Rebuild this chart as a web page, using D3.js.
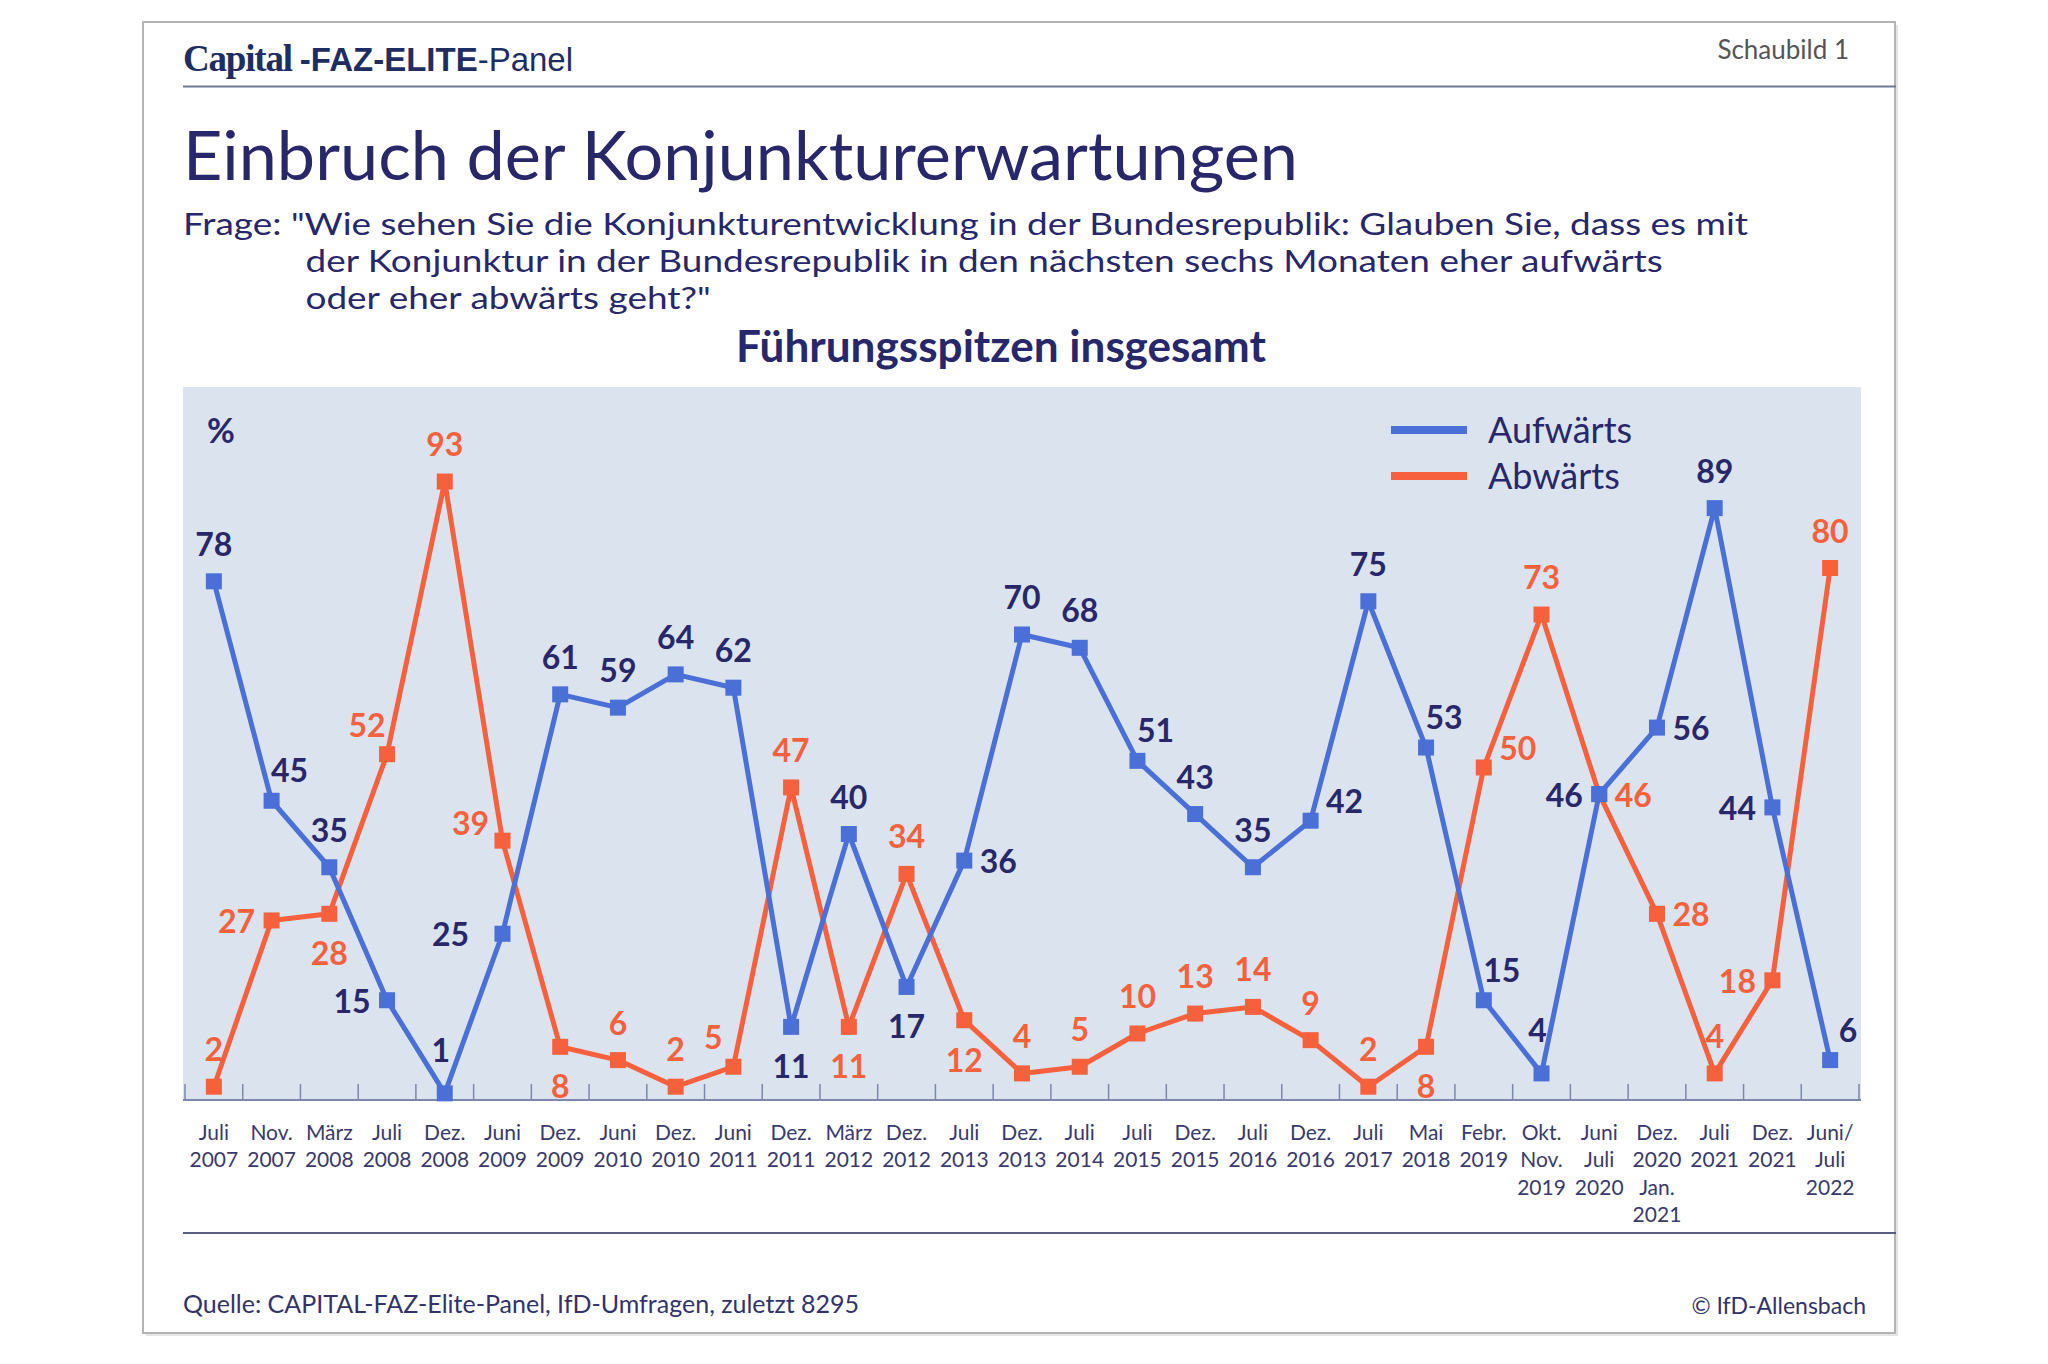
<!DOCTYPE html>
<html>
<head>
<meta charset="utf-8">
<script src="https://cdn.jsdelivr.net/npm/d3@7"></script>
<style>
  body { margin: 0; background: #fff; }
  svg { display: block; font-family: Lato, "Open Sans", sans-serif; }
</style>
</head>
<body>
<svg id="chart" width="2048" height="1364"></svg>
<script>
// survey dates (x-axis labels, one line per array entry)
const categories = [
  ["Juli", "2007"], ["Nov.", "2007"], ["März", "2008"], ["Juli", "2008"], ["Dez.", "2008"],
  ["Juni", "2009"], ["Dez.", "2009"], ["Juni", "2010"], ["Dez.", "2010"], ["Juni", "2011"],
  ["Dez.", "2011"], ["März", "2012"], ["Dez.", "2012"], ["Juli", "2013"], ["Dez.", "2013"],
  ["Juli", "2014"], ["Juli", "2015"], ["Dez.", "2015"], ["Juli", "2016"], ["Dez.", "2016"],
  ["Juli", "2017"], ["Mai", "2018"], ["Febr.", "2019"], ["Okt.", "Nov.", "2019"],
  ["Juni", "Juli", "2020"], ["Dez.", "2020", "Jan.", "2021"], ["Juli", "2021"],
  ["Dez.", "2021"], ["Juni/", "Juli", "2022"]
];

const aufwaerts = [78, 45, 35, 15, 1, 25, 61, 59, 64, 62, 11, 40, 17, 36, 70, 68, 51, 43, 35, 42, 75, 53, 15, 4, 46, 56, 89, 44, 6];
const abwaerts  = [2, 27, 28, 52, 93, 39, 8, 6, 2, 5, 47, 11, 34, 12, 4, 5, 10, 13, 14, 9, 2, 8, 50, 73, 46, 28, 4, 18, 80];

// where each value label sits relative to its marker
const aufPos = ["t","tr","t","l","T","L","t","t","t","t","b","t","b","r","t","t","tr","t","t","rt","t","tr","tr","T","l","r","t","l","tr"];
const abPos  = ["t","l","b","tl","t","lt","b","t","t","tl","t","b","t","b","t","t","t","t","t","t","t","b","rt","t","r","r","t","l","t"];

const offsets = {
  t: [0, -38], T: [-4, -44], b: [0, 39], l: [-35, 0], r: [34, 0],
  tr: [18, -31], tl: [-20, -30], rt: [34, -20], lt: [-32, -18], L: [-52, 0]
};

const navy = "#27276a";
const blue = "#4a6fd6";
const orange = "#f6603c";

const svg = d3.select("#chart");

// fit a text element's font-size so it spans the wanted width
function fitWidth(sel, w) {
  const fs = parseFloat(sel.attr("font-size"));
  const len = sel.node().getComputedTextLength();
  sel.attr("font-size", (fs * w / len).toFixed(2));
}

// frame
svg.append("rect").attr("x", 146).attr("y", 25).attr("width", 1752).attr("height", 1311)
  .attr("fill", "#e4e4e4");
svg.append("rect").attr("x", 143).attr("y", 22).attr("width", 1752).attr("height", 1311)
  .attr("fill", "#fff").attr("stroke", "#b4b4b4").attr("stroke-width", 2);

// header
const head = svg.append("text").attr("x", 183).attr("y", 71).attr("fill", "#1f2e62");
head.append("tspan").attr("font-family", "'Liberation Serif', serif").attr("font-weight", 700)
  .attr("font-size", 37).attr("letter-spacing", -1.2).text("Capital ");
head.append("tspan").attr("font-family", "'Liberation Sans', Arial, sans-serif").attr("font-weight", 700)
  .attr("font-size", 33).text("-FAZ-ELITE");
head.append("tspan").attr("font-family", "'Liberation Sans', Arial, sans-serif")
  .attr("font-size", 33).text("-Panel");

svg.append("text").attr("x", 1849).attr("y", 59).attr("text-anchor", "end")
  .attr("font-size", 26).attr("fill", "#555").text("Schaubild 1");

svg.append("line").attr("x1", 183).attr("x2", 1896).attr("y1", 86.5).attr("y2", 86.5)
  .attr("stroke", "#6c7a92").attr("stroke-width", 2);

// title block
const title = svg.append("text").attr("x", 183).attr("y", 180).attr("font-size", 66)
  .attr("fill", navy).text("Einbruch der Konjunkturerwartungen");
fitWidth(title, 1115);

const qLines = [
  ["Frage: \"Wie sehen Sie die Konjunkturentwicklung in der Bundesrepublik: Glauben Sie, dass es mit", 183, 235],
  ["der Konjunktur in der Bundesrepublik in den nächsten sechs Monaten eher aufwärts", 305.5, 272],
  ["oder eher abwärts geht?\"", 305.5, 308.5]
];
const qText = qLines.map(([s, qx, qy]) => svg.append("text").attr("x", qx).attr("y", qy)
  .attr("font-size", 30).attr("fill", navy).text(s));
// stretch glyphs of the first line to the reference width, same ratio for the others
const stretch = 1565 / qText[0].node().getComputedTextLength();
qText.forEach(t => t.attr("textLength", (t.node().getComputedTextLength() * stretch).toFixed(1))
  .attr("lengthAdjust", "spacingAndGlyphs"));

const sub = svg.append("text").attr("x", 1001).attr("y", 362).attr("text-anchor", "middle")
  .attr("font-size", 40).attr("font-weight", 700).attr("fill", navy).text("Führungsspitzen insgesamt");
fitWidth(sub, 530);

// plot area
const plot = { left: 183, right: 1861, top: 387, bottom: 1100 };
svg.append("rect").attr("x", plot.left).attr("y", plot.top)
  .attr("width", plot.right - plot.left).attr("height", plot.bottom - plot.top)
  .attr("fill", "#dbe3ee");

const keys = categories.map(c => c.join(" "));
const x = d3.scaleBand().domain(keys).range([185, 1859]).padding(0);
const y = d3.scaleLinear().domain([0, 100]).range([plot.bottom, 435]);
const cx = i => x(keys[i]) + x.bandwidth() / 2;

// axis: baseline with ticks at the band boundaries
const axisG = svg.append("g").attr("transform", `translate(0,${plot.bottom})`);
axisG.call(d3.axisTop(x).tickSize(0).tickFormat(""));
axisG.select(".domain").remove();
axisG.append("line").attr("x1", plot.left).attr("x2", plot.right)
  .attr("stroke", "#7d86ab").attr("stroke-width", 2);
const bounds = keys.map(k => x(k)).concat([x(keys[keys.length - 1]) + x.bandwidth()]);
axisG.selectAll("line.tk").data(bounds).join("line").attr("class", "tk")
  .attr("x1", d => d).attr("x2", d => d).attr("y1", 0).attr("y2", -16)
  .attr("stroke", "#7d86ab").attr("stroke-width", 1.5);

// x labels
const xl = svg.append("g").attr("font-size", 21).attr("fill", "#3a3a6c").attr("text-anchor", "middle");
categories.forEach((c, i) => {
  const t = xl.append("text").attr("x", cx(i)).attr("y", 1140);
  c.forEach((s, j) => t.append("tspan").attr("x", cx(i)).attr("dy", j ? 27.4 : 0).text(s));
});

// bottom rule and footer
svg.append("line").attr("x1", 183).attr("x2", 1896).attr("y1", 1233).attr("y2", 1233)
  .attr("stroke", "#5a5c86").attr("stroke-width", 2);
svg.append("text").attr("x", 183).attr("y", 1313).attr("font-size", 25).attr("fill", "#33336a")
  .text("Quelle: CAPITAL-FAZ-Elite-Panel, IfD-Umfragen, zuletzt 8295");
svg.append("text").attr("x", 1866).attr("y", 1314).attr("text-anchor", "end").attr("font-size", 23)
  .attr("fill", "#33336a").text("© IfD-Allensbach");

// "%" marker
svg.append("text").attr("x", 207).attr("y", 443).attr("font-size", 34).attr("font-weight", 700)
  .attr("fill", navy).text("%");

// series
const series = [
  { name: "Abwärts", values: abwaerts, color: orange, labelColor: orange, pos: abPos },
  { name: "Aufwärts", values: aufwaerts, color: blue, labelColor: navy, pos: aufPos }
];

const line = d3.line().x((d, i) => cx(i)).y(d => y(d));

series.forEach(s => {
  svg.append("path").datum(s.values).attr("d", line)
    .attr("fill", "none").attr("stroke", s.color).attr("stroke-width", 5)
    .attr("stroke-linejoin", "round");
  svg.append("g").selectAll("rect").data(s.values).join("rect")
    .attr("x", (d, i) => cx(i) - 8).attr("y", d => y(d) - 8)
    .attr("width", 16).attr("height", 16).attr("fill", s.color);
});

series.forEach(s => {
  svg.append("g").attr("font-size", 32).attr("font-weight", 700).attr("fill", s.labelColor)
    .attr("text-anchor", "middle")
    .selectAll("text").data(s.values).join("text")
    .attr("x", (d, i) => cx(i) + offsets[s.pos[i]][0])
    .attr("y", (d, i) => y(d) + offsets[s.pos[i]][1])
    .attr("dominant-baseline", "central")
    .text(d => d);
});

// legend
const legend = svg.append("g").attr("transform", "translate(1391,430)");
[["Aufwärts", blue], ["Abwärts", orange]].forEach(([name, col], i) => {
  legend.append("line").attr("x1", 0).attr("x2", 76).attr("y1", i * 46).attr("y2", i * 46)
    .attr("stroke", col).attr("stroke-width", 8);
  legend.append("text").attr("x", 97).attr("y", i * 46 + 13).attr("font-size", 36)
    .attr("fill", navy).text(name);
});
</script>
</body>
</html>
